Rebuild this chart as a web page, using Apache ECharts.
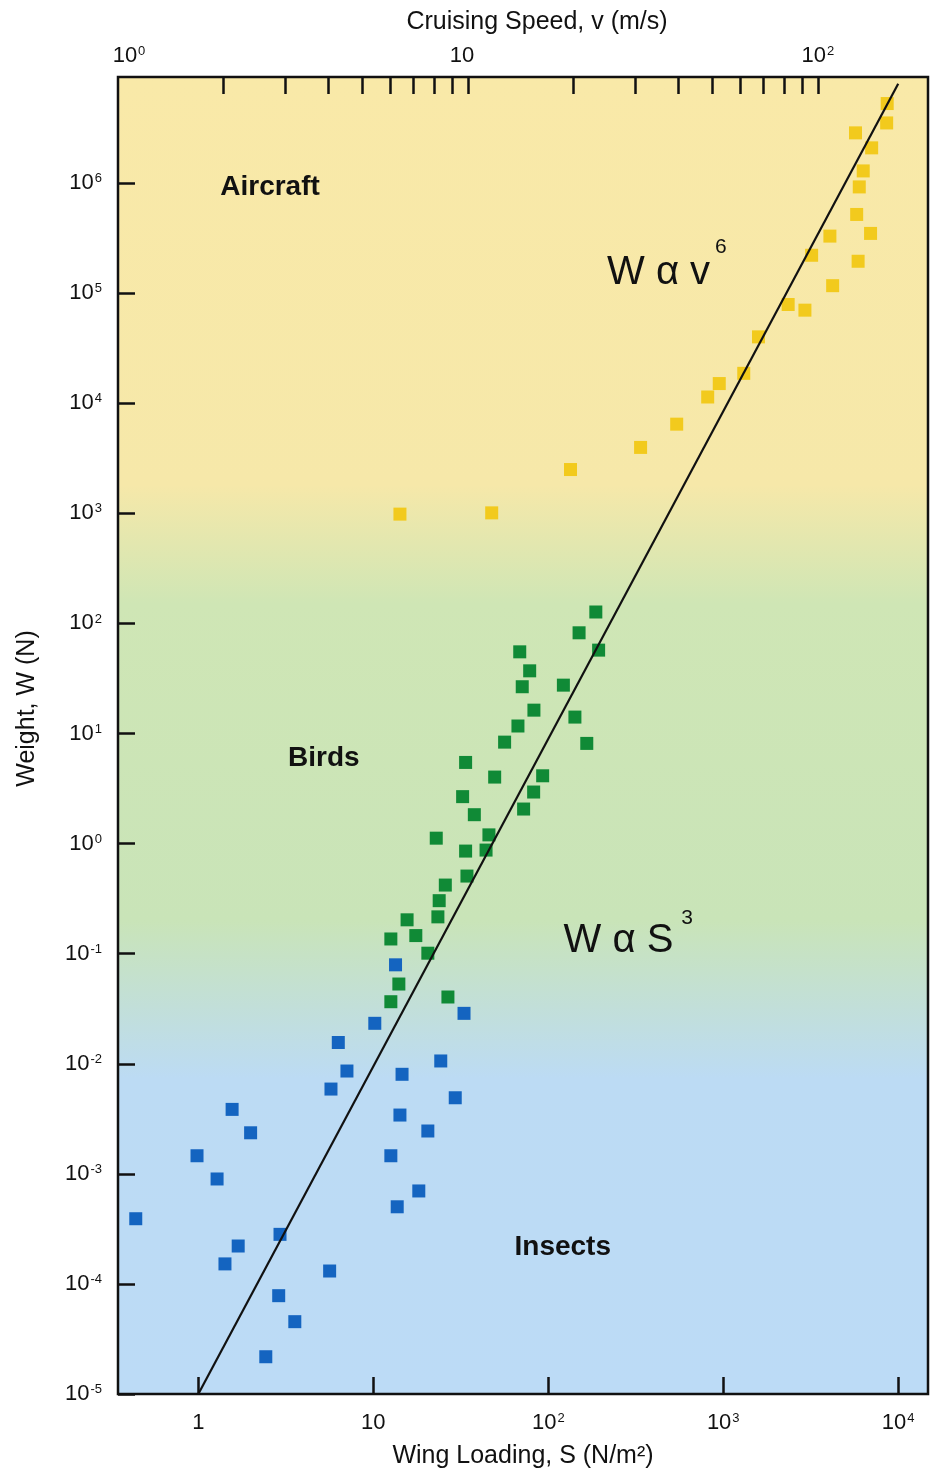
<!DOCTYPE html>
<html><head><meta charset="utf-8">
<script src="https://cdn.jsdelivr.net/npm/echarts@6/dist/echarts.min.js"></script>
<style>html,body{margin:0;padding:0;background:#fff}#c{width:930px;height:1475px}</style>
</head><body><div id="c"></div>
<script>
// ---- data (wing loading S in N/m^2, weight W in N) ----
const aircraftS = [14.2, 47.5, 134, 337, 542, 815, 949, 1310, 1590, 2350, 2930, 4220, 3200, 4070, 5900, 6950, 5790, 5990, 6310, 7050, 5700, 8590, 8650];
const aircraftW = [984, 1010, 2500, 3970, 6460, 11400, 15100, 18700, 40100, 78900, 70100, 117000, 221000, 330000, 195000, 349000, 519000, 923000, 1290000, 2090000, 2860000, 3520000, 5280000];
const birdS = [187, 150, 194, 68.7, 78.3, 71.0, 122, 82.8, 142, 67.1, 56.3, 166, 33.7, 49.4, 92.9, 32.4, 82.5, 37.8, 72.3, 22.9, 45.8, 33.7, 44.1, 34.3, 25.8, 23.8, 15.6, 23.4, 12.6, 17.5, 20.5, 14.0, 12.6, 26.7];
const birdW = [127, 82.2, 57.2, 55.2, 37.1, 26.6, 27.5, 16.3, 14.1, 11.7, 8.35, 8.13, 5.46, 4.02, 4.13, 2.67, 2.94, 1.83, 2.06, 1.12, 1.20, 0.855, 0.873, 0.507, 0.420, 0.303, 0.203, 0.216, 0.136, 0.146, 0.101, 0.053, 0.0366, 0.0404];
const insectS = [13.4, 33.0, 10.2, 6.31, 24.3, 7.07, 14.6, 5.73, 29.4, 1.56, 14.2, 1.99, 20.5, 0.983, 12.6, 1.28, 18.2, 13.7, 0.439, 2.93, 1.69, 1.42, 5.63, 2.88, 3.56, 2.43];
const insectW = [0.0792, 0.0287, 0.0233, 0.0156, 0.0106, 0.00859, 0.00802, 0.00589, 0.00491, 0.00385, 0.00342, 0.00236, 0.00245, 0.00146, 0.00146, 0.000898, 0.000699, 0.000502, 0.000391, 0.000282, 0.000221, 0.000152, 0.000131, 0.0000782, 0.0000454, 0.0000218];
// scaling line W ~ S^3 (end points)
const lawS = [1, 10000];
const lawW = [1e-5, 8e6];
// ticks
const wingTicks = [1, 10, 100, 1000, 10000];
const weightTicks = [1e-5, 1e-4, 1e-3, 1e-2, 1e-1, 1, 10, 100, 1e3, 1e4, 1e5, 1e6];
const speedLabels = [1, 10, 100];
const speedTicks = [2, 3, 4, 5, 6, 7, 8, 9, 10, 20, 30, 40, 50, 60, 70, 80, 90, 100];
// axis ranges
const wingRange = [0.3475, 14800];
const weightRange = [1e-5, 9.2e6];
const speedRange = [1, 206.5];
// annotations
const groupText = ['Aircraft', 'Birds', 'Insects'];
const groupS = [2.57, 5.22, 121];
const groupW = [918000, 5.98, 0.000216];
const lawText = ['W α v', 'W α S'];
const lawTextS = [427, 252];
const lawTextW = [152000, 0.130];
const lawExp = ['6', '3'];
const lawExpS = [968, 621];
const lawExpW = [262000, 0.210];

const L = Math.log10;
const FONT = '"Liberation Sans", Arial, Helvetica, sans-serif';
const INK = '#111';
const rich = {
  b: {fontSize: 22, fontFamily: FONT, color: INK},
  p: {fontSize: 22, fontFamily: FONT, color: INK, padding: [0, 0, 0, 22]},
  q: {fontSize: 22, fontFamily: FONT, color: INK, padding: [0, 12, 0, 0]},
  s: {fontSize: 13, fontFamily: FONT, color: INK, padding: [0, 0, 9, 1]}
};
function pow10(e, plainLow) {
  if (plainLow && e === 0) return '{b|1}';
  if (plainLow && e === 1) return '{b|10}';
  return '{b|10}{s|' + e + '}';
}
const pts = (S, W) => S.map((s, i) => [L(s), L(W[i])]);

const chart = echarts.init(document.getElementById('c'));
const tickStyle = {show: true, inside: true, length: 17, lineStyle: {color: INK, width: 2.5}};
const noLine = {show: false, onZero: false};
const txt = {fontFamily: FONT, color: INK, textBorderWidth: 0};
const sq = c => ({color: c, opacity: 1});
chart.setOption({
  animation: false,
  backgroundColor: '#fff',
  grid: {
    left: 118, right: 2, top: 77, bottom: 81, show: true, containLabel: false, outerBoundsMode: 'none',
    borderColor: INK, borderWidth: 2.5,
    backgroundColor: new echarts.graphic.LinearGradient(0, 0, 0, 1, [
      {offset: 0, color: '#F9E9A8'},
      {offset: 0.31, color: '#F6E8A9'},
      {offset: 0.40, color: '#CFE6B5'},
      {offset: 0.64, color: '#C9E4B8'},
      {offset: 0.76, color: '#BCDBF4'},
      {offset: 1, color: '#BCDBF6'}
    ])
  },
  xAxis: [{
    type: 'value', position: 'bottom', min: L(wingRange[0]), max: L(wingRange[1]),
    axisLine: noLine, splitLine: {show: false},
    axisTick: Object.assign({customValues: wingTicks.map(L)}, tickStyle),
    axisLabel: {customValues: wingTicks.map(L), margin: 18, rich: rich,
      formatter: v => pow10(Math.round(v), true)},
    name: 'Wing Loading, S (N/m²)', nameLocation: 'middle', nameGap: 50,
    nameTextStyle: {fontSize: 25, fontFamily: FONT, color: INK}
  }, {
    type: 'value', position: 'top', min: L(speedRange[0]), max: L(speedRange[1]),
    axisLine: noLine, splitLine: {show: false},
    axisTick: Object.assign({customValues: speedTicks.map(L)}, tickStyle),
    axisLabel: {customValues: speedLabels.map(L), margin: 10, rich: rich,
      formatter: v => { const e = Math.round(v); return e === 1 ? '{q|10}' : (e === 0 ? '{p|10}{s|0}' : '{b|10}{s|' + e + '}'); }},
    name: 'Cruising Speed, v (m/s)', nameLocation: 'middle', nameGap: 42,
    nameTextStyle: {fontSize: 25, fontFamily: FONT, color: INK, padding: [0, 0, 0, 28]}
  }],
  yAxis: [{
    type: 'value', min: L(weightRange[0]), max: L(weightRange[1]),
    axisLine: noLine, splitLine: {show: false},
    axisTick: Object.assign({customValues: weightTicks.map(L)}, tickStyle),
    axisLabel: {customValues: weightTicks.map(L), margin: 16, rich: rich,
      formatter: v => pow10(Math.round(v), false)},
    name: 'Weight, W (N)', nameLocation: 'middle', nameGap: 78, nameRotate: 90,
    nameTextStyle: {fontSize: 25, fontFamily: FONT, color: INK, padding: [0, 0, 0, 54]}
  }],
  series: [
    {type: 'scatter', name: 'Aircraft', symbol: 'rect', symbolSize: 13, itemStyle: sq('#F2CA1D'), data: pts(aircraftS, aircraftW), z: 3},
    {type: 'scatter', name: 'Birds', symbol: 'rect', symbolSize: 13, itemStyle: sq('#108A36'), data: pts(birdS, birdW), z: 3},
    {type: 'scatter', name: 'Insects', symbol: 'rect', symbolSize: 13, itemStyle: sq('#1464C0'), data: pts(insectS, insectW), z: 3},
    {type: 'line', data: pts(lawS, lawW), symbol: 'none', lineStyle: {color: INK, width: 2.2}, z: 5},
    {type: 'scatter', symbolSize: 0, silent: true, z: 6, itemStyle: {opacity: 1},
      label: Object.assign({show: true, position: 'inside', formatter: '{b}', fontSize: 28, fontWeight: 'bold'}, txt),
      data: groupText.map((t, i) => ({name: t, value: [L(groupS[i]), L(groupW[i])]}))},
    {type: 'scatter', symbolSize: 0, silent: true, z: 6, itemStyle: {opacity: 1},
      label: Object.assign({show: true, position: 'inside', formatter: '{b}', fontSize: 40}, txt),
      data: lawText.map((t, i) => ({name: t, value: [L(lawTextS[i]), L(lawTextW[i])]}))},
    {type: 'scatter', symbolSize: 0, silent: true, z: 6, itemStyle: {opacity: 1},
      label: Object.assign({show: true, position: 'inside', formatter: '{b}', fontSize: 21}, txt),
      data: lawExp.map((t, i) => ({name: t, value: [L(lawExpS[i]), L(lawExpW[i])]}))}
  ]
});
</script></body></html>
